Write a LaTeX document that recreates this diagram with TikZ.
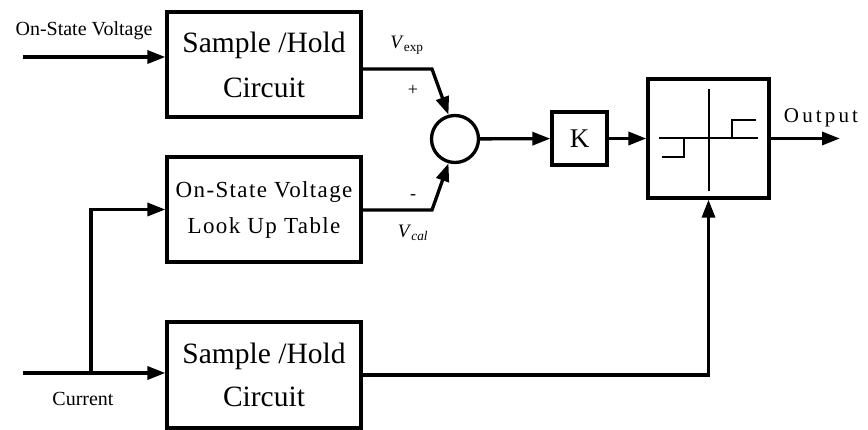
\documentclass[tikz,border=0pt]{standalone}
\usepackage{fontspec}
\setmainfont{Liberation Serif}
\usetikzlibrary{arrows.meta}
\begin{document}
\begin{tikzpicture}[x=1pt,y=-1pt,
  blk/.style={draw,line width=3.3pt,inner sep=0pt,align=center},
  conn/.style={line width=3.3pt,-{Triangle[length=18pt,width=13pt]}},
  wire/.style={line width=2.8pt},
  lbl/.style={inner sep=0pt}]
\useasboundingbox (0,0) rectangle (868,430);
% blocks
\node[blk,minimum width=194pt,minimum height=105pt,font=\fontsize{29.5}{45}\selectfont] (sh1) at (264,64.5) {Sample /Hold\\Circuit};
\node[blk,minimum width=194pt,minimum height=105pt,font=\fontsize{23}{36}\selectfont\addfontfeatures{LetterSpace=6}] (lut) at (264,209.5) {On-State Voltage\\Look Up Table};
\node[blk,minimum width=194pt,minimum height=106pt,font=\fontsize{29.5}{43}\selectfont] (sh3) at (264,375) {Sample /Hold\\Circuit};
\node[blk,circle,minimum size=47pt] (sum) at (455,139) {};
\node[blk,minimum width=55pt,minimum height=53pt,font=\fontsize{27}{30}\selectfont] (k) at (579.5,138.5) {K};
\node[blk,minimum width=121pt,minimum height=119pt] (sat) at (708.5,138.5) {};
% saturation symbol
\draw[wire] (709,89) -- (709,191);
\draw[wire] (659,138) -- (758,138);
\draw[wire] (684,138) -- (684,157) -- (662,157);
\draw[wire] (732,138) -- (732,120) -- (756,120);
% inputs
\coordinate (in1) at (23,57);
\coordinate (in3) at (23,373);
\coordinate (br) at (91,373);
\draw[conn] (in1) -- (in1 -| sh1.west);
\draw[conn] (in3) -- (in3 -| sh3.west);
\draw[conn] (br) |- (lut.west);
% to summing junction
\coordinate (a1) at (432,69);
\coordinate (a2) at (432,210);
\draw[conn] (a1 -| sh1.east) -- (a1) -- (sum.105);
\draw[conn] (a2 -| lut.east) -- (a2) -- (sum.255);
\draw[conn] (sum) -- (k);
\draw[conn] (k) -- (sat);
\coordinate (out) at (840,138.5);
\draw[conn] (sat.east) -- (out);
\draw[conn] (sh3.east) -| (sat.south);
% labels
\node[lbl,font=\fontsize{20}{22}\selectfont] (l1) at (84,31) {On-State Voltage};
\node[lbl,font=\fontsize{20}{22}\selectfont] (l2) at (83,399) {Current};
\node[lbl,font=\fontsize{21}{24}\selectfont\addfontfeatures{LetterSpace=15}] (l3) at (821,118) {Output};
\node[lbl,font=\fontsize{19}{22}\selectfont] (l4) at (407,45) {\textit{V}\textsubscript{exp}};
\node[lbl,font=\fontsize{19}{22}\selectfont] (l5) at (413,233) {\textit{V}\textsubscript{\textit{cal}}};
\node[lbl,font=\fontsize{18}{20}\selectfont] (l6) at (413,90) {+};
\node[lbl,font=\fontsize{18}{20}\selectfont] (l7) at (413,197) {-};
\end{tikzpicture}
\end{document}
